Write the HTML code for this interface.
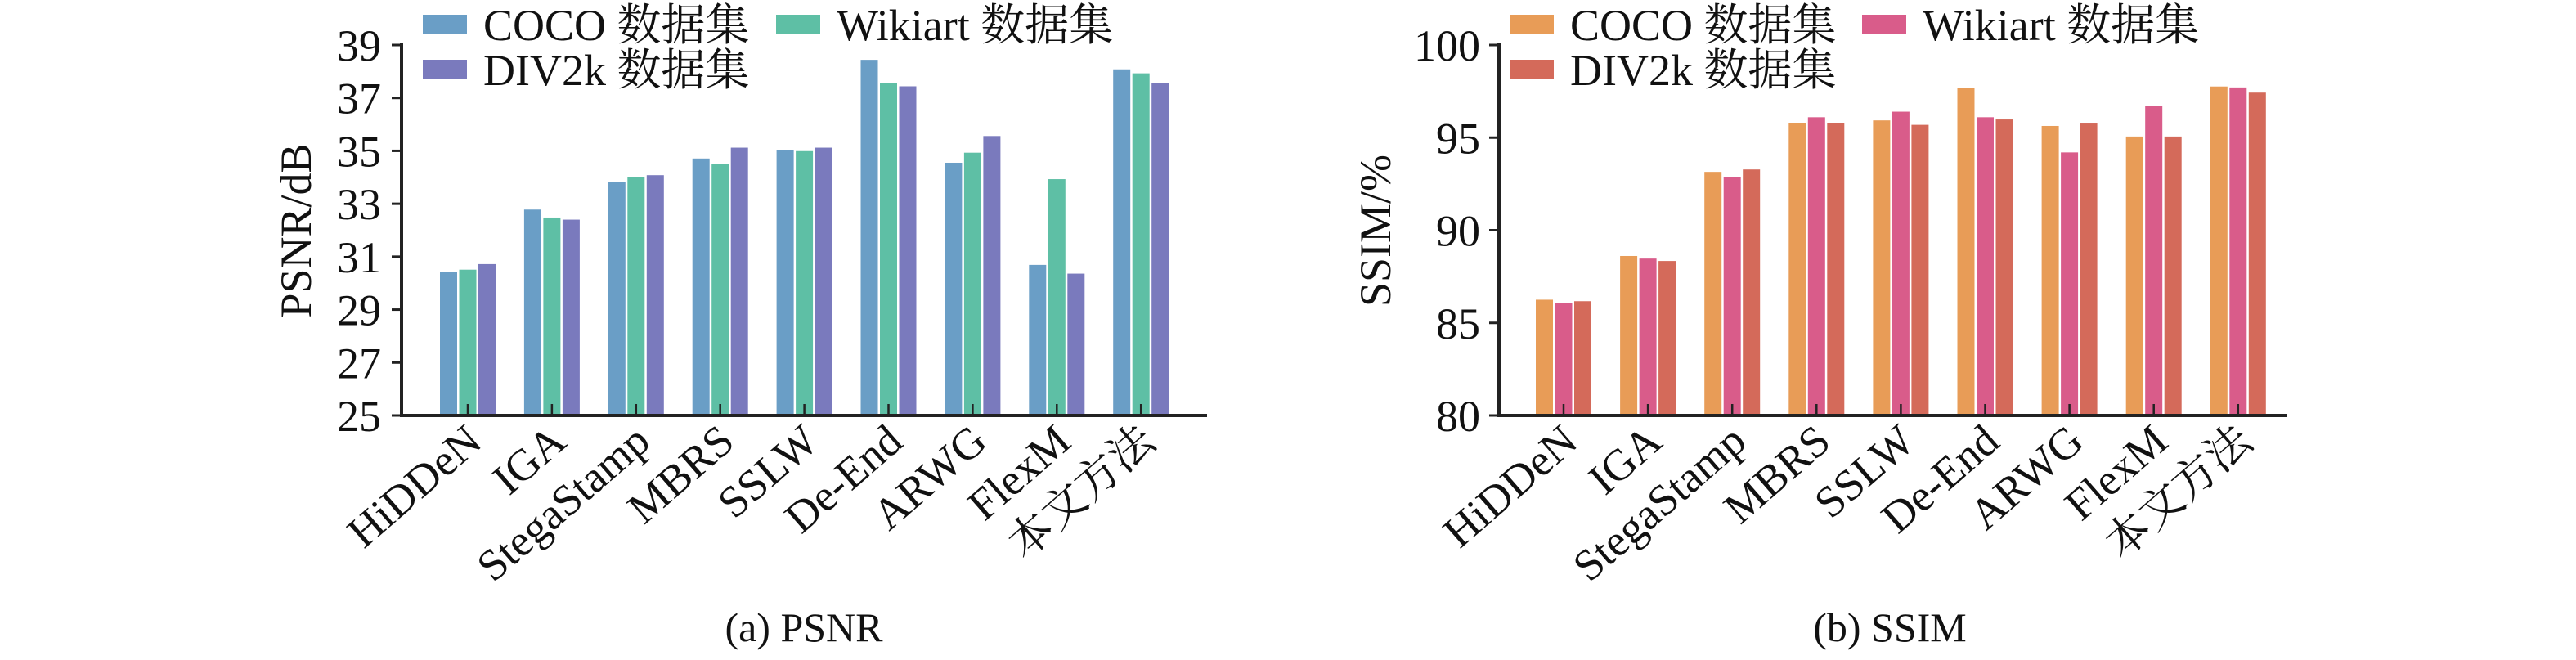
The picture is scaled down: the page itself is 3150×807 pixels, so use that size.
<!DOCTYPE html>
<html><head><meta charset="utf-8"><style>
html,body{margin:0;padding:0;background:#fff;}
svg{display:block;font-family:"Liberation Serif","Noto Serif CJK SC",serif;}
</style></head><body>
<svg id="chart" width="3150" height="807" viewBox="0 0 3150 807" xmlns="http://www.w3.org/2000/svg"></svg>
<script>
const categories=["HiDDeN","IGA","StegaStamp","MBRS","SSLW","De-End","ARWG","FlexM","本文方法"];
const seriesNames=["COCO 数据集","Wikiart 数据集","DIV2k 数据集"];
const psnrCoco=[30.41,32.78,33.82,34.71,35.04,38.44,34.55,30.69,38.08];
const psnrWiki=[30.51,32.48,34.02,34.49,34.99,37.57,34.93,33.93,37.93];
const psnrDiv=[30.72,32.40,34.08,35.12,35.12,37.44,35.56,30.36,37.57];
const psnrTicks=[25,27,29,31,33,35,37,39];
const ssimCoco=[86.25,88.61,93.15,95.79,95.93,97.67,95.63,95.06,97.76];
const ssimWiki=[86.06,88.47,92.87,96.10,96.40,96.10,94.20,96.69,97.71];
const ssimDiv=[86.17,88.34,93.28,95.79,95.69,95.98,95.76,95.06,97.43];
const ssimTicks=[80,85,90,95,100];

const NS="http://www.w3.org/2000/svg";
const svg=document.getElementById('chart');
function mk(tag,attrs,parent){const e=document.createElementNS(NS,tag);for(const k in attrs)e.setAttribute(k,attrs[k]);(parent||svg).appendChild(e);return e;}

function panel(cfg){
  const g=mk('g',{});
  
  
  const y=v=>cfg.y0-(v-cfg.min)/(cfg.max-cfg.min)*(cfg.y0-cfg.y1);
  const x=i=>cfg.x0+i*cfg.step;
  cfg.series.forEach((arr,s)=>{
    arr.forEach((v,i)=>{
      const cx=x(i)+(s-1)*23.5;
      const r=mk('rect',{x:cx-10.5,y:y(v),width:21,height:cfg.y0-y(v),fill:cfg.colors[s]},g);
      
      
    });
  });
  const ya=mk('line',{x1:cfg.ax,y1:cfg.y1-2,x2:cfg.ax,y2:cfg.y0+2,stroke:'#222','stroke-width':4},g);
  
  
  const xa=mk('line',{x1:cfg.ax-2,y1:cfg.y0,x2:cfg.axEnd,y2:cfg.y0,stroke:'#222','stroke-width':4},g);
  
  
  cfg.ticks.forEach(t=>{
    mk('line',{x1:cfg.ax-12,y1:y(t),x2:cfg.ax,y2:y(t),stroke:'#222','stroke-width':3},g);
    const tl=mk('text',{x:cfg.tickRight,y:y(t)+19,'text-anchor':'end','font-size':54,fill:'#111'},g);
    tl.textContent=t;
    
    
  });
  categories.forEach((c,i)=>{
    mk('line',{x1:x(i),y1:cfg.y0,x2:x(i),y2:cfg.y0-14,stroke:'#222','stroke-width':2.5},g);
    const tx=x(i)+20, ty=cfg.y0+36;
    const t=mk('text',{x:tx,y:ty,'text-anchor':'end','font-size':54,fill:'#111',transform:`rotate(-41 ${tx} ${ty})`},g);
    t.textContent=c;
    
    
  });
  const yt=mk('text',{x:cfg.titleX,y:282,'text-anchor':'middle','font-size':54,fill:'#111',transform:`rotate(-90 ${cfg.titleX} 282)`},g);
  yt.textContent=cfg.yTitle;
  
  
  const cap=mk('text',{x:cfg.capX,y:784,'text-anchor':'middle','font-size':50,fill:'#111'},g);
  cap.textContent=cfg.caption;
  
  
  const lp=[[cfg.lx1,18],[cfg.lx2,18],[cfg.lx1,73]];
  seriesNames.forEach((n,s)=>{
    const lg=mk('g',{},g);
    
    
    mk('rect',{x:lp[s][0],y:lp[s][1],width:54,height:24,fill:cfg.colors[s]},lg);
    const lt=mk('text',{x:lp[s][0]+74,y:lp[s][1]+31,'font-size':54,fill:'#111'},lg);
    lt.textContent=n;
  });
}
panel({name:'psnr-chart',series:[psnrCoco,psnrWiki,psnrDiv],colors:['#6a9ec6','#5ebfa5','#7a7abd'],
  min:25,max:39,y0:508,y1:55,x0:572,step:102.9,ax:491,axEnd:1476,ticks:psnrTicks,tickRight:466,
  titleX:380,yTitle:'PSNR/dB',capX:983,caption:'(a) PSNR',lx1:517,lx2:949});
panel({name:'ssim-chart',series:[ssimCoco,ssimWiki,ssimDiv],colors:['#e89c57','#d95c8a','#d46a5a'],
  min:80,max:100,y0:508,y1:55,x0:1912,step:103.1,ax:1833,axEnd:2796,ticks:ssimTicks,tickRight:1810,
  titleX:1700,yTitle:'SSIM/%',capX:2311,caption:'(b) SSIM',lx1:1846,lx2:2277});
</script>
</body></html>
